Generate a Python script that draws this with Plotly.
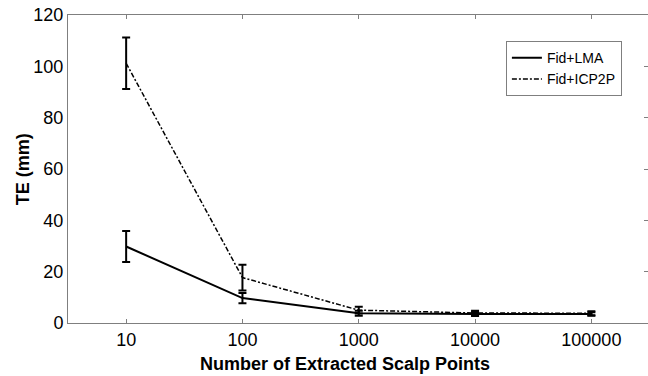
import plotly.graph_objects as go

points = [10, 100, 1000, 10000, 100000]
tick_labels = ["10", "100", "1000", "10000", "100000"]
lma_mean = [29.8, 9.7, 3.8, 3.5, 3.5]
lma_err = [6.0, 2.0, 1.0, 0.8, 0.7]
icp_mean = [101.2, 17.7, 5.0, 3.9, 3.8]
icp_err = [10.0, 5.0, 1.3, 0.9, 0.8]

FONT = "Liberation Sans, Arial, sans-serif"
AX = "#7f7f7f"

fig = go.Figure()
fig.add_trace(go.Scatter(
    x=points, y=lma_mean, mode="lines", name="Fid+LMA",
    line=dict(color="black", width=2),
    error_y=dict(type="data", array=lma_err, color="black", thickness=2, width=4),
))
fig.add_trace(go.Scatter(
    x=points, y=icp_mean, mode="lines", name="Fid+ICP2P",
    line=dict(color="black", width=1.5, dash="5px,2px,2px,2px"),
    error_y=dict(type="data", array=icp_err, color="black", thickness=2, width=4),
))

fig.update_layout(
    width=648, height=376,
    margin=dict(l=68, r=0, t=15, b=53),
    paper_bgcolor="white", plot_bgcolor="white",
    font=dict(family=FONT, color="black"),
    showlegend=True,
    legend=dict(
        x=0.755, y=0.915, xanchor="left", yanchor="top",
        bordercolor=AX, borderwidth=1, bgcolor="white",
        font=dict(size=14, family=FONT), itemwidth=30,
        tracegroupgap=0,
    ),
    xaxis=dict(
        type="log", range=[0.5, 5.487],
        tickvals=points, ticktext=tick_labels,
        ticks="inside", ticklen=4, tickcolor=AX,
        showline=True, linecolor=AX, linewidth=1, mirror="ticks",
        showgrid=False, zeroline=False,
        tickfont=dict(size=18, family=FONT),
    ),
    yaxis=dict(
        range=[0, 120], tickvals=[0, 20, 40, 60, 80, 100, 120],
        ticks="", showline=True, linecolor=AX, linewidth=1, mirror=True,
        showgrid=False, zeroline=False,
        tickfont=dict(size=18, family=FONT),
    ),
    yaxis2=dict(
        range=[0, 120], overlaying="y", side="right",
        tickvals=[0, 20, 40, 60, 80, 100, 120],
        ticks="inside", ticklen=4, tickcolor=AX,
        showticklabels=False, showgrid=False, zeroline=False, showline=False,
    ),
    annotations=[
        dict(
            text="<b>Number of Extracted Scalp Points</b>",
            xref="paper", yref="paper", x=0.478, y=-0.133,
            xanchor="center", yanchor="middle", showarrow=False,
            font=dict(size=18, family=FONT, color="black"),
        ),
        dict(
            text="<b>TE (mm)</b>", textangle=-90,
            xref="paper", yref="paper", x=-0.077, y=0.5,
            xanchor="center", yanchor="middle", showarrow=False,
            font=dict(size=18, family=FONT, color="black"),
        ),
    ],
)
fig.add_trace(go.Scatter(x=[points[0]], y=[0], yaxis="y2", mode="markers",
                         marker=dict(opacity=0), showlegend=False, hoverinfo="skip"))

fig.write_html("out.html", config={"displayModeBar": False},
               post_script="document.body.style.margin='0';document.body.style.padding='0';")
